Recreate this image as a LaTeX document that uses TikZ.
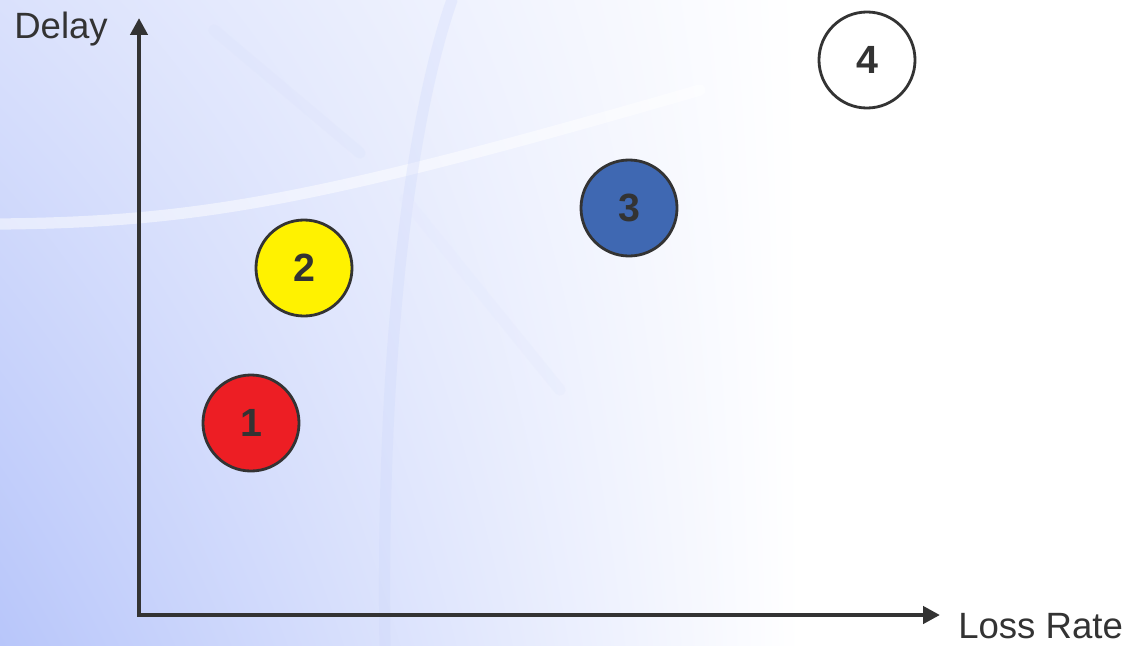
\documentclass[tikz,border=0pt]{standalone}
\usepackage{fontspec}
\setmainfont{Liberation Sans}
\usetikzlibrary{arrows.meta,positioning,shadings}
\definecolor{ChartInk}{RGB}{51,51,51}
\definecolor{ChartRed}{RGB}{237,30,36}
\definecolor{ChartYellow}{RGB}{255,242,0}
\definecolor{ChartBlue}{RGB}{63,104,178}
\definecolor{ChartSky}{RGB}{184,198,250}
\definecolor{ChartMist}{RGB}{218,225,252}

\begin{document}
\begin{tikzpicture}[x=0.025cm,y=-0.025cm,>={Triangle[length=12pt,width=12pt]},
  dot/.style={circle,draw=ChartInk,line width=2pt,minimum size=2.4cm,inner sep=0pt,
    font=\fontsize{28}{30}\selectfont\bfseries,text=ChartInk},
  axislabel/.style={inner sep=0pt,font=\fontsize{26}{28}\selectfont,text=ChartInk},
  streak/.style={line width=8pt,line cap=round,opacity=0.3}]
\useasboundingbox (0,0) rectangle (1129,645);
% background wash
\fill[white] (0,0) rectangle (1129,645);
\shade[upper left=ChartMist,lower left=ChartSky,upper right=white,lower right=white]
  (0,0) rectangle (800,645);
\draw[streak,white,opacity=0.5] (0,224) .. controls (200,222) and (320,200) .. (700,90);
\draw[streak,ChartSky!70] (452,0) .. controls (420,90) and (380,300) .. (385,645);
\draw[streak,ChartSky!50] (214,30) -- (360,153);
\draw[streak,ChartSky!40] (405,199) -- (560,390);

% axes
\coordinate (origin) at (139,615);
\coordinate (ytip) at (139,18);
\coordinate (xtip) at (940,615);
\draw[<->,ChartInk,line width=3.5pt] (ytip) |- (xtip);
\node[axislabel,anchor=base west] (ylabel) at (14,38) {Delay};
\node[axislabel,anchor=base west] (xlabel) at (958,638) {Loss Rate};

% classes
\node[dot,fill=ChartRed] (dot1) at (251,423) {1};
\node[dot,fill=ChartYellow] (dot2) at (304,268) {2};
\node[dot,fill=ChartBlue] (dot3) at (629,208) {3};
\node[dot,fill=white] (dot4) at (867,60) {4};
\end{tikzpicture}
\end{document}
